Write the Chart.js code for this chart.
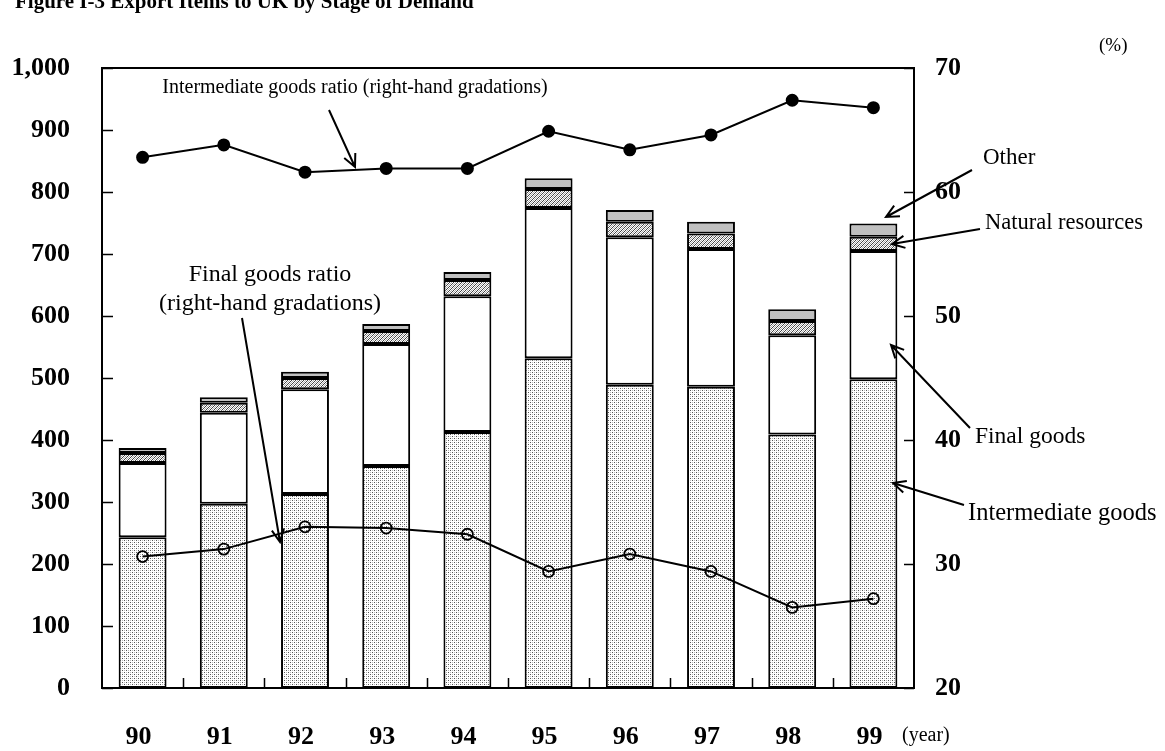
<!DOCTYPE html>
<html>
<head>
<meta charset="utf-8">
<script src="https://cdn.jsdelivr.net/npm/chart.js@4.4.1/dist/chart.umd.min.js"></script>
<style>
  html, body { margin: 0; padding: 0; background: #fff; }
  #wrap { width: 1165px; height: 751px; position: relative; }
</style>
</head>
<body>
<div id="wrap"><canvas id="exportChart"></canvas></div>
<script>
// Anni (asse X)
const years = ['90', '91', '92', '93', '94', '95', '96', '97', '98', '99'];

// Esportazioni per fase di domanda (scala sinistra)
const intermediate = [243, 297, 313, 358, 413, 532, 489, 486, 409, 498];
const finalGoods   = [120, 147, 169, 197, 219, 242, 238, 222, 160, 207];
const naturalRes   = [16, 16, 18, 21, 26, 31, 25, 25, 23, 23];
const otherItems   = [8, 9, 10, 11, 13, 17, 19, 19, 19, 21];

// Quote percentuali (scala destra)
const intermediateRatio = [62.8, 63.8, 61.6, 61.9, 61.9, 64.9, 63.4, 64.6, 67.4, 66.8];
const finalRatio        = [30.6, 31.2, 33.0, 32.9, 32.4, 29.4, 30.8, 29.4, 26.5, 27.2];

const serif = '"Liberation Serif", "Times New Roman", serif';

// Crea un pattern da una piccola griglia di pixel
function makePattern(size, paint) {
    const c = document.createElement('canvas');
    c.width = size; c.height = size;
    const p = c.getContext('2d');
    p.fillStyle = '#fff';
    p.fillRect(0, 0, size, size);
    paint(p);
    return p.createPattern(c, 'repeat');
}

// Puntinato fine per i beni intermedi
const dotPattern = makePattern(4, p => {
    p.fillStyle = '#555';
    p.fillRect(0, 0, 1, 1);
    p.fillRect(2, 2, 1, 1);
    p.fillStyle = '#bbb';
    p.fillRect(2, 0, 1, 1);
    p.fillRect(0, 2, 1, 1);
});

// Tratteggio diagonale per le risorse naturali
const hatchPattern = makePattern(4, p => {
    p.fillStyle = '#444';
    for (let i = 0; i < 4; i++) p.fillRect(i, 3 - i, 1, 1);
    p.fillStyle = '#aaa';
    for (let i = 0; i < 4; i++) p.fillRect(i, (5 - i) % 4, 1, 1);
});

// Didascalie con freccia (coordinate in pixel)
const callouts = [
    { from: [329, 110], to: [355, 167] },
    { from: [242, 318], to: [280, 542] },
    { from: [972, 170], to: [886, 217] },
    { from: [980, 229], to: [892, 244] },
    { from: [970, 428], to: [891, 345] },
    { from: [964, 505], to: [893, 483] },
];
const notes = [
    { text: 'Intermediate goods ratio (right-hand gradations)', x: 355, y: 93, align: 'center', size: 20 },
    { text: 'Final goods ratio', x: 270, y: 281, align: 'center', size: 24 },
    { text: '(right-hand gradations)', x: 270, y: 310, align: 'center', size: 24 },
    { text: 'Other', x: 983, y: 164, align: 'left', size: 23 },
    { text: 'Natural resources', x: 985, y: 229, align: 'left', size: 22.5 },
    { text: 'Final goods', x: 975, y: 443, align: 'left', size: 23.5 },
    { text: 'Intermediate goods', x: 968, y: 520, align: 'left', size: 24.5 },
    { text: '(%)', x: 1099, y: 51, align: 'left', size: 19 },
    { text: '(year)', x: 902, y: 741, align: 'left', size: 20 },
];

function drawArrow(ctx, x1, y1, x2, y2) {
    const ang = Math.atan2(y2 - y1, x2 - x1);
    const len = 14, spread = 0.45;
    ctx.beginPath();
    ctx.moveTo(x1, y1);
    ctx.lineTo(x2, y2);
    ctx.moveTo(x2 - len * Math.cos(ang - spread), y2 - len * Math.sin(ang - spread));
    ctx.lineTo(x2, y2);
    ctx.lineTo(x2 - len * Math.cos(ang + spread), y2 - len * Math.sin(ang + spread));
    ctx.stroke();
}

// Cornice, tacche interne, titolo e didascalie
const decorPlugin = {
    id: 'decor',
    afterDatasetsDraw(chart) {
        const ctx = chart.ctx;
        const a = chart.chartArea;
        const x = chart.scales.x, y = chart.scales.y, y1 = chart.scales.y1;
        ctx.save();
        ctx.strokeStyle = '#000';
        ctx.lineWidth = 2;
        ctx.strokeRect(a.left, a.top, a.right - a.left, a.bottom - a.top);

        ctx.lineWidth = 1.5;
        ctx.beginPath();
        y.ticks.forEach(t => {
            const py = Math.round(y.getPixelForValue(t.value)) + 0.5;
            ctx.moveTo(a.left, py); ctx.lineTo(a.left + 11, py);
        });
        y1.ticks.forEach(t => {
            const py = Math.round(y1.getPixelForValue(t.value)) + 0.5;
            ctx.moveTo(a.right, py); ctx.lineTo(a.right - 10, py);
        });
        for (let i = 1; i < years.length; i++) {
            const px = Math.round((x.getPixelForValue(i - 1) + x.getPixelForValue(i)) / 2) + 0.5;
            ctx.moveTo(px, a.bottom); ctx.lineTo(px, a.bottom - 10);
        }
        ctx.stroke();

        ctx.lineWidth = 2;
        callouts.forEach(c => drawArrow(ctx, c.from[0], c.from[1], c.to[0], c.to[1]));

        ctx.fillStyle = '#000';
        ctx.textBaseline = 'alphabetic';
        notes.forEach(n => {
            ctx.font = n.size + 'px ' + serif;
            ctx.textAlign = n.align;
            ctx.fillText(n.text, n.x, n.y);
        });

        ctx.font = 'bold 21px ' + serif;
        ctx.textAlign = 'left';
        ctx.fillText('Figure I-3 Export Items to UK by Stage of Demand', 15, 8);
        ctx.restore();
    }
};

const barBase = {
    type: 'bar',
    yAxisID: 'y',
    borderColor: '#000',
    borderWidth: 2,
    borderSkipped: false,
    barPercentage: 0.59,
    categoryPercentage: 1,
    order: 2,
};

const tickFont = { family: serif, size: 26, weight: 'bold' };

new Chart(document.getElementById('exportChart').getContext('2d'), {
    data: {
        labels: years,
        datasets: [
            Object.assign({}, barBase, { label: 'Intermediate goods', data: intermediate, backgroundColor: dotPattern }),
            Object.assign({}, barBase, { label: 'Final goods', data: finalGoods, backgroundColor: '#fff' }),
            Object.assign({}, barBase, { label: 'Natural resources', data: naturalRes, backgroundColor: hatchPattern }),
            Object.assign({}, barBase, { label: 'Other', data: otherItems, backgroundColor: '#c0c0c0' }),
            {
                type: 'line',
                label: 'Intermediate goods ratio',
                data: intermediateRatio,
                yAxisID: 'y1',
                borderColor: '#000',
                borderWidth: 2,
                pointRadius: 5.5,
                pointBackgroundColor: '#000',
                pointBorderColor: '#000',
                tension: 0,
                order: 0,
            },
            {
                type: 'line',
                label: 'Final goods ratio',
                data: finalRatio,
                yAxisID: 'y1',
                borderColor: '#000',
                borderWidth: 2,
                pointRadius: 5.5,
                pointBorderWidth: 1.8,
                pointBackgroundColor: 'rgba(255,255,255,0)',
                pointBorderColor: '#000',
                tension: 0,
                order: 0,
            },
        ]
    },
    options: {
        responsive: true,
        maintainAspectRatio: false,
        animation: false,
        layout: { padding: { top: 68, left: 0, right: 0, bottom: 0 } },
        plugins: {
            legend: { display: false },
            tooltip: { enabled: false },
        },
        scales: {
            x: {
                stacked: true,
                grid: { display: false },
                border: { display: false },
                ticks: { color: '#000', font: tickFont, padding: 26, maxRotation: 0, labelOffset: -4 },
                afterFit: s => { s.height = 63; },
            },
            y: {
                stacked: true,
                position: 'left',
                min: 0, max: 1000,
                grid: { display: false },
                border: { display: false },
                ticks: {
                    stepSize: 100,
                    color: '#000',
                    font: tickFont,
                    padding: 24,
                    callback: v => v.toLocaleString('en-US'),
                },
                afterFit: s => { s.width = 102; },
            },
            y1: {
                position: 'right',
                min: 20, max: 70,
                grid: { display: false },
                border: { display: false },
                ticks: { stepSize: 10, color: '#000', font: tickFont, padding: 13 },
                afterFit: s => { s.width = 251; },
            },
        }
    },
    plugins: [decorPlugin]
});
</script>
</body>
</html>
